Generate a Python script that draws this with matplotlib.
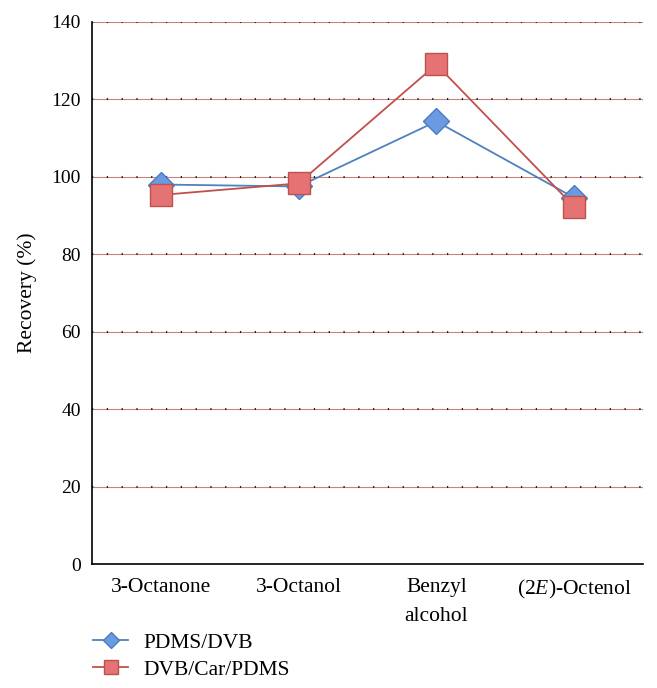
import matplotlib.pyplot as plt
import numpy as np

plt.rcParams['font.family'] = ['Liberation Serif', 'DejaVu Serif']
plt.rcParams['mathtext.fontset'] = 'custom'
plt.rcParams['mathtext.rm'] = 'Liberation Serif'
plt.rcParams['mathtext.it'] = 'Liberation Serif:italic'

compounds = ['3-Octanone', '3-Octanol', 'Benzyl\nalcohol', '(2$\\it{E}$)-Octenol']
pdms_dvb = [98.0, 97.5, 114.3, 94.6]
dvb_car_pdms = [95.3, 98.3, 129.0, 92.3]
yticks = [0, 20, 40, 60, 80, 100, 120, 140]

fig = plt.figure(figsize=(6.57, 6.88), dpi=100)
ax = fig.add_axes([0.140, 0.1802, 0.8387, 0.788])

x = np.arange(len(compounds)) + 0.5

# gridlines: thin red line with black dots on top
for yv in yticks[1:]:
    ax.axhline(yv, color='#c9837f', lw=0.8, zorder=1)
    ax.axhline(yv, color='#222222', lw=1.5, ls=(0, (0.6, 6.5)), zorder=1)

ax.plot(x, pdms_dvb, color='#4f81bd', lw=1.3, marker='D', markersize=13,
        markerfacecolor='#6a9ae0', markeredgecolor='#4a7cc6', markeredgewidth=1,
        label='PDMS/DVB', zorder=3)
ax.plot(x, dvb_car_pdms, color='#c0504d', lw=1.3, marker='s', markersize=16,
        markerfacecolor='#e57373', markeredgecolor='#c0504d', markeredgewidth=1,
        label='DVB/Car/PDMS', zorder=4)

ax.set_xlim(0, 4)
ax.set_ylim(0, 140)
ax.set_yticks(yticks)
ax.set_xticks(x)
ax.set_xticklabels(compounds, fontsize=15.5, linespacing=1.7)
ax.tick_params(axis='both', length=0)
ax.tick_params(axis='x', pad=10)
ax.tick_params(axis='y', labelsize=14, pad=8)
for s in ['top', 'right']:
    ax.spines[s].set_visible(False)
ax.spines['left'].set_linewidth(1.2)
ax.spines['bottom'].set_linewidth(1.2)
ax.set_ylabel('Recovery (%)', fontsize=15.5, labelpad=10)

leg = fig.legend(loc='upper left', bbox_to_anchor=(0.1415, 0.080), frameon=False,
                 fontsize=15.5, handlelength=1.63, handletextpad=0.7,
                 labelspacing=0.3, borderpad=0, borderaxespad=0)
hs = leg.legend_handles
hs[0].set_markersize(8)
hs[1].set_markersize(10)

fig.savefig('out.png', dpi=100)
